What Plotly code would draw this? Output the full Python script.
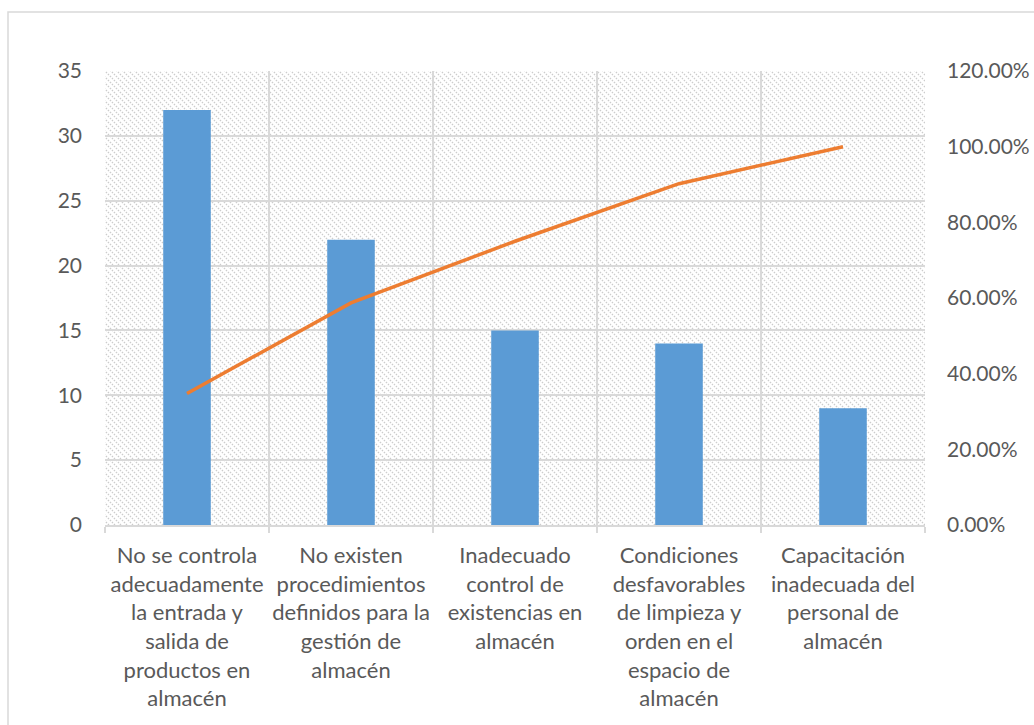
import base64
import plotly.graph_objects as go

categories = [
    "No se controla<br>adecuadamente<br>la entrada y<br>salida de<br>productos en<br>almacén",
    "No existen<br>procedimientos<br>definidos para la<br>gestión de<br>almacén",
    "Inadecuado<br>control de<br>existencias en<br>almacén",
    "Condiciones<br>desfavorables<br>de limpieza y<br>orden en el<br>espacio de<br>almacén",
    "Capacitación<br>inadecuada del<br>personal de<br>almacén",
]
frequencies = [32, 22, 15, 14, 9]
cumulative_pct = [0.3478, 0.5870, 0.7500, 0.9022, 1.0000]

W, H = 1034, 725
L, R, T, B = 105, 109, 71, 200
pw, ph = W - L - R, H - T - B

svg = (
    f"<svg xmlns='http://www.w3.org/2000/svg' width='{pw}' height='{ph}'>"
    "<defs><pattern id='p' width='6' height='6' patternUnits='userSpaceOnUse'>"
    "<path d='M-1,-1 L7,7 M-1,5 L1,7 M5,-1 L7,1' stroke='#cccccc' stroke-width='1.4' stroke-dasharray='1.4,1.4'/>"
    "</pattern></defs><rect width='100%' height='100%' fill='url(#p)'/></svg>"
)
src = "data:image/svg+xml;base64," + base64.b64encode(svg.encode()).decode()

FONT = "Lato"
TXT = "#595959"
GRID = "#d9d9d9"

fig = go.Figure()
fig.add_trace(go.Bar(
    x=categories, y=frequencies, marker=dict(color="#5B9BD5", line=dict(width=0)),
    width=0.29, yaxis="y", showlegend=False,
))
fig.add_trace(go.Scatter(
    x=categories, y=cumulative_pct, mode="lines", yaxis="y2",
    line=dict(color="#ED7D31", width=3.5), showlegend=False,
))

fig.update_layout(
    width=W, height=H,
    margin=dict(l=L, r=R, t=T, b=B, autoexpand=False),
    paper_bgcolor="white", plot_bgcolor="rgba(0,0,0,0)",
    font=dict(family=FONT, size=21, color=TXT),
    xaxis=dict(
        type="category", tickson="boundaries", showgrid=True, gridcolor=GRID, gridwidth=1.5,
        ticks="outside", ticklen=6, tickcolor=GRID, tickwidth=1.5,
        showline=True, linecolor=GRID, linewidth=1.5, mirror=False,
        tickfont=dict(family=FONT, size=22, color=TXT), tickangle=0,
        ticklabelstandoff=10, automargin=False,
    ),
    yaxis=dict(
        range=[0, 35], dtick=5, showgrid=True, gridcolor=GRID, gridwidth=1.5,
        zeroline=False, ticks="", ticklabelstandoff=22, automargin=False,
        tickfont=dict(family=FONT, size=21, color=TXT),
    ),
    yaxis2=dict(
        range=[0, 1.2], dtick=0.2, tickformat=".2%", overlaying="y", side="right",
        showgrid=False, zeroline=False, ticks="", ticklabelstandoff=21, automargin=False,
        tickfont=dict(family=FONT, size=21, color=TXT),
    ),
    images=[dict(
        source=src, xref="paper", yref="paper", x=0, y=1, sizex=1, sizey=1,
        sizing="stretch", layer="below", xanchor="left", yanchor="top",
    )],
    shapes=[dict(
        type="rect", xref="paper", yref="paper",
        x0=(8 - L) / pw, x1=(1040 - L) / pw,
        y0=1 + (T - 730) / ph, y1=1 + (T - 12) / ph,
        line=dict(color="#d9d9d9", width=1.5), fillcolor="rgba(0,0,0,0)", layer="below",
    )],
)

fig.write_html("out.html")
